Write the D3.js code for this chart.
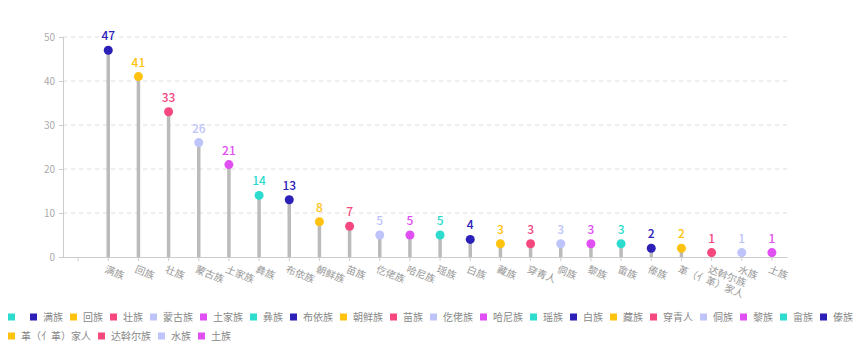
<!DOCTYPE html>
<html lang="zh">
<head>
<meta charset="UTF-8">
<title>民族分布</title>
<script src="https://d3js.org/d3.v7.min.js"></script>
<style>
    body { margin: 0; background: #fff; font-family: "Noto Sans CJK SC", "Noto Sans", sans-serif; }
    .grid line { stroke: #ddd; stroke-dasharray: 4 4; }
    .axis-label { fill: #999; font-size: 10px; }
    .legend-text { fill: #888; font-size: 10px; }
</style>
</head>
<body>
<div id="chart"></div>
<script>
    // 数据
    const categories = ['', '满族', '回族', '壮族', '蒙古族', '土家族', '彝族', '布依族', '朝鲜族', '苗族',
        '仡佬族', '哈尼族', '瑶族', '白族', '藏族', '穿青人', '侗族', '黎族', '畲族', '傣族',
        '革（亻革）家人', '达斡尔族', '水族', '土族'];
    const values = [null, 47, 41, 33, 26, 21, 14, 13, 8, 7, 5, 5, 5, 4, 3, 3, 3, 3, 3, 2, 2, 1, 1, 1];
    const yTicks = [0, 10, 20, 30, 40, 50];
    const palette = ['#2ddccf', '#2c20b8', '#ffc20e', '#f5487f', '#bec4fa', '#df4ff2'];

    const width = 865, height = 363;
    const margin = { left: 63, right: 78, top: 37, bottom: 106 };

    const svg = d3.select('#chart').append('svg')
        .attr('width', width)
        .attr('height', height);

    const x = d3.scaleBand()
        .domain(d3.range(categories.length))
        .range([margin.left, width - margin.right]);

    const y = d3.scaleLinear()
        .domain([0, 50])
        .range([height - margin.bottom, margin.top]);

    const color = i => palette[i % palette.length];
    const cx = i => x(i) + x.bandwidth() / 2;

    // 网格线
    svg.append('g')
        .attr('class', 'grid')
        .selectAll('line')
        .data(yTicks.filter(d => d > 0))
        .enter().append('line')
        .attr('x1', margin.left)
        .attr('x2', width - margin.right)
        .attr('y1', d => y(d))
        .attr('y2', d => y(d));

    // y 轴
    const yAxis = svg.append('g')
        .attr('transform', `translate(${margin.left},0)`)
        .call(d3.axisLeft(y).tickValues(yTicks).tickSize(4).tickPadding(4));
    yAxis.select('.domain').attr('stroke', '#ccc');
    yAxis.selectAll('.tick line').attr('stroke', '#ccc');
    yAxis.selectAll('.tick text').attr('fill', '#aaa').style('font-size', '10px')
        .style('font-family', '"Noto Sans CJK SC", sans-serif');

    // x 轴
    const xAxis = svg.append('g')
        .attr('transform', `translate(0,${y(0)})`)
        .call(d3.axisBottom(x).tickFormat('').tickSize(4).tickSizeOuter(0));
    xAxis.select('.domain').attr('stroke', '#ccc');
    xAxis.selectAll('.tick line').attr('stroke', '#ccc');

    svg.append('g')
        .selectAll('text')
        .data(categories)
        .enter().append('text')
        .attr('class', 'axis-label')
        .attr('transform', (d, i) => `translate(${cx(i) - 1},${y(0) + 7}) rotate(22)`)
        .attr('dy', '0.85em')
        .text(d => d);

    const points = values.map((v, i) => ({ i, v })).filter(d => d.v != null);

    // 棒
    svg.append('g')
        .selectAll('line')
        .data(points)
        .enter().append('line')
        .attr('x1', d => cx(d.i))
        .attr('x2', d => cx(d.i))
        .attr('y1', y(0))
        .attr('y2', d => y(d.v))
        .attr('stroke', '#bbb')
        .attr('stroke-width', 3.5);

    // 圆点
    svg.append('g')
        .selectAll('circle')
        .data(points)
        .enter().append('circle')
        .attr('cx', d => cx(d.i))
        .attr('cy', d => y(d.v))
        .attr('r', 4.5)
        .attr('fill', d => color(d.i));

    // 数值标签
    svg.append('g')
        .selectAll('text')
        .data(points)
        .enter().append('text')
        .attr('x', d => cx(d.i))
        .attr('y', d => y(d.v) - 10)
        .attr('text-anchor', 'middle')
        .attr('fill', d => color(d.i))
        .style('font-size', '12px')
        .style('font-weight', 500)
        .text(d => d.v);

    // 图例
    const legend = svg.append('g');
    let lx = 8, ly = 317;
    categories.forEach((c, i) => {
        const g = legend.append('g');
        g.append('rect')
            .attr('x', lx).attr('y', ly - 3.5)
            .attr('width', 7).attr('height', 7)
            .attr('fill', color(i));
        const t = g.append('text')
            .attr('class', 'legend-text')
            .attr('x', lx + 13).attr('y', ly)
            .attr('dy', '0.35em')
            .text(c);
        const w = c ? t.node().getComputedTextLength() : 2;
        let next = lx + 20 + w;
        if (i + 1 < categories.length) {
            const nw = 13 + categories[i + 1].length * 10;
            if (next + nw > width) { next = 8; ly += 19; }
        }
        lx = next;
    });
</script>
</body>
</html>
